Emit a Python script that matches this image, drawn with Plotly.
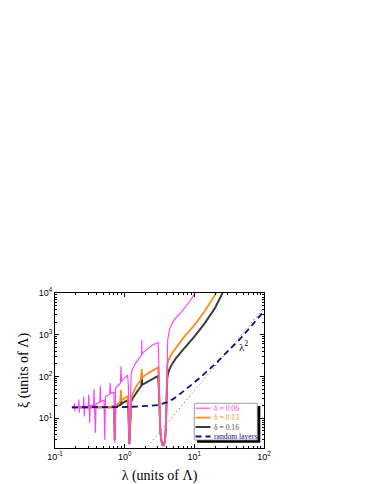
import plotly.graph_objects as go

# ---------------- data ----------------
lam_06 = [0.175, 0.188, 0.190, 0.192, 0.194, 0.218, 0.220, 0.223, 0.226, 0.256, 0.259, 0.263, 0.267,
          0.300, 0.304, 0.309, 0.315, 0.320, 0.358, 0.363, 0.368, 0.380, 0.388, 0.440, 0.447, 0.454,
          0.505, 0.517, 0.530, 0.61, 0.62, 0.63, 0.70, 0.72, 0.74, 0.80, 0.87, 0.885, 0.90, 0.97,
          1.05, 1.10, 1.13, 1.15, 1.17, 1.19, 1.21, 1.24, 1.30, 1.40, 1.55, 1.70, 1.75, 1.76, 1.77,
          1.85, 2.05, 2.3, 2.6, 2.9, 3.02, 3.08, 3.12, 3.17, 3.25, 3.35, 3.5, 3.65, 3.8, 3.9, 3.97,
          4.02, 4.08, 4.15, 4.3, 4.5, 4.9, 5.5, 6.5, 7.5, 8.8, 10.3]
xi_06 = [18.2, 18.2, 23, 14.5, 18.2, 18.3, 28, 13.3, 18.4, 18.6, 33, 11, 18.8,
         19.2, 37, 19.5, 7.7, 20, 20.5, 50, 21, 4.4, 22, 24, 60, 25,
         27, 3.05, 33, 38, 70, 39, 42, 2.54, 52, 60, 70, 175, 75, 88,
         100, 108, 60, 10, 2.3, 10, 60, 115, 150, 195, 250, 300, 330, 760, 340,
         380, 440, 510, 580, 640, 650, 300, 60, 15, 5, 3, 2.25, 2.25, 3, 6, 20,
         100, 450, 750, 1100, 1500, 2000, 2600, 3500, 4600, 6600, 10200]

lam_13 = [0.175, 0.60, 0.66, 0.70, 0.715, 0.72, 0.725, 0.735, 0.80, 0.875, 0.885, 0.895, 0.97,
          1.05, 1.10, 1.13, 1.15, 1.17, 1.19, 1.21, 1.24, 1.32, 1.45, 1.6, 1.74, 1.76, 1.78,
          2.0, 2.3, 2.6, 2.9, 3.02, 3.08, 3.12, 3.17, 3.25, 3.35, 3.5, 3.65, 3.8, 3.9, 3.97,
          4.02, 4.08, 4.2, 4.4, 4.8, 5.5, 7.0, 10, 14, 20.8]
xi_13 = [18.2, 18.2, 19.5, 20, 6, 3.0, 6, 19.5, 22, 25.5, 48, 26.5, 29,
         32, 34, 20, 6, 2.4, 6, 20, 30, 40, 56, 72, 88, 150, 92,
         110, 126, 145, 160, 165, 90, 35, 12, 5, 3, 2.25, 2.25, 3, 6, 20,
         80, 180, 230, 280, 360, 500, 850, 1700, 3600, 10200]

lam_16 = [0.175, 0.70, 0.715, 0.72, 0.725, 0.735, 0.80, 0.875, 0.885, 0.895, 0.97,
          1.05, 1.10, 1.13, 1.15, 1.17, 1.19, 1.21, 1.24, 1.32, 1.45, 1.6, 1.74, 1.76, 1.78,
          2.0, 2.3, 2.6, 2.9, 3.02, 3.08, 3.12, 3.17, 3.25, 3.35, 3.5, 3.65, 3.8, 3.9, 3.97,
          4.02, 4.08, 4.2, 4.4, 4.8, 5.5, 7.0, 10, 14, 20, 25.5]
xi_16 = [18.2, 18.3, 6, 3.0, 6, 18.5, 19.5, 21, 40, 22, 24,
         26, 27, 15, 5, 2.4, 5, 15, 25, 31, 40, 50, 60, 120, 63,
         70, 80, 90, 100, 103, 60, 25, 10, 5, 3, 2.25, 2.25, 3, 6, 18,
         50, 90, 120, 150, 200, 280, 450, 900, 1850, 4500, 10200]

lam_rl = [0.175, 0.5, 0.8, 1.0, 1.5, 2.0, 3.0, 4.0, 5.0, 6.0, 7.0, 8.5, 10, 12, 15, 20, 30, 45, 60, 80, 100]
xi_rl = [18.2, 18.2, 18.3, 18.5, 19, 19.5, 20.5, 24, 29, 36, 44, 57, 72, 92, 130, 200, 400, 780, 1350, 2350, 3700]

lam_sq = [2.0, 100]
xi_sq = [1.85, 4400]

x_tickvals = [0.1, 1, 10, 100]
x_ticktext = ["10<sup>-1</sup>", "10<sup>0</sup>", "10<sup>1</sup>", "10<sup>2</sup>"]
y_tickvals = [10, 100, 1000, 10000]
y_ticktext = ["10<sup>1</sup>", "10<sup>2</sup>", "10<sup>3</sup>", "10<sup>4</sup>"]

legend_names = ["δ = 0.06", "δ = 0.13", "δ = 0.16", "random layers"]

# ---------------- styling ----------------
C_MAG = "#ff3cff"
C_ORA = "#ff8c1a"
C_GRY = "#3c3c3c"
C_NAV = "#10107a"

W, H = 374, 484
L, R, T, B = 55, 264, 293, 448


def px(x):
    return (x - L) / (R - L)


def py(y):
    return (B - y) / (B - T)


fig = go.Figure()
fig.add_trace(go.Scatter(x=lam_sq, y=xi_sq, mode="lines",
                         line=dict(color="#555555", width=1, dash="1px,3px"), showlegend=False))
fig.add_trace(go.Scatter(x=lam_16, y=xi_16, mode="lines", name=legend_names[2],
                         line=dict(color=C_GRY, width=2), showlegend=False))
fig.add_trace(go.Scatter(x=lam_13, y=xi_13, mode="lines", name=legend_names[1],
                         line=dict(color=C_ORA, width=1.8), showlegend=False))
fig.add_trace(go.Scatter(x=lam_06, y=xi_06, mode="lines", name=legend_names[0],
                         line=dict(color=C_MAG, width=1.1), showlegend=False))
fig.add_trace(go.Scatter(x=lam_rl, y=xi_rl, mode="lines", name=legend_names[3],
                         line=dict(color=C_NAV, width=1.8, dash="6px,4px"), showlegend=False))

minor_x = [m * 10 ** e for e in range(-1, 2) for m in range(2, 10)]
minor_y = [m * 10 ** e for e in range(0, 4) for m in range(2, 10)]

axis_common = dict(type="log", showline=True, linecolor="black", linewidth=1, mirror="allticks",
                   ticks="inside", ticklen=4, tickcolor="black", showgrid=False, zeroline=False,
                   automargin=False,
                   tickfont=dict(family="Liberation Sans", size=9, color="black"))

fig.update_xaxes(range=[-1, 2], tickmode="array", tickvals=x_tickvals, ticktext=x_ticktext,
                 minor=dict(tickmode="array", tickvals=minor_x, ticks="inside", ticklen=2, tickcolor="black"),
                 title=dict(text="λ (units of Λ)", font=dict(family="Liberation Serif", size=14, color="black"),
                            standoff=10),
                 **axis_common)
fig.update_yaxes(range=[0.285, 4.0], tickmode="array", tickvals=y_tickvals, ticktext=y_ticktext,
                 minor=dict(tickmode="array", tickvals=minor_y, ticks="inside", ticklen=2, tickcolor="black"),
                 title=dict(text="ξ (units of Λ)", font=dict(family="Liberation Serif", size=14, color="black"),
                            standoff=6),
                 **axis_common)

# manual legend with drop shadow
shapes = [
    dict(type="rect", xref="paper", yref="paper", x0=px(197), x1=px(260.3), y0=py(442.7), y1=py(406),
         fillcolor="black", line=dict(width=0), layer="above"),
    dict(type="rect", xref="paper", yref="paper", x0=px(194.3), x1=px(257.3), y0=py(440), y1=py(403.3),
         fillcolor="white", line=dict(color="#888888", width=0.8), layer="above"),
]
rows = [408.2, 417.6, 427.0, 436.4]
styles = [dict(color=C_MAG, width=1.1), dict(color=C_ORA, width=1.8), dict(color=C_GRY, width=2),
          dict(color=C_NAV, width=2, dash="6px,4px")]
txt_colors = [C_MAG, C_ORA, "#505050", C_NAV]
annotations = []
for r, st, name, tc in zip(rows, styles, legend_names, txt_colors):
    shapes.append(dict(type="line", xref="paper", yref="paper", x0=px(195.5), x1=px(210.5),
                       y0=py(r), y1=py(r), line=st, layer="above"))
    annotations.append(dict(xref="paper", yref="paper", x=px(212), y=py(r), text=name, showarrow=False,
                            xanchor="left", yanchor="middle",
                            font=dict(family="Liberation Serif", size=7.6, color=tc)))

annotations.append(dict(xref="paper", yref="paper", x=px(243), y=py(346), text="λ<sup>2</sup>",
                        showarrow=False, xanchor="center", yanchor="middle",
                        font=dict(family="Liberation Serif", size=11, color="black")))

fig.update_layout(width=W, height=H, margin=dict(l=L, r=W - R, t=T, b=H - B, pad=0, autoexpand=False),
                  paper_bgcolor="white", plot_bgcolor="white", showlegend=False,
                  shapes=shapes, annotations=annotations)

fig.write_html("out.html", config={"displayModeBar": False},
               post_script="document.body.style.margin='0px';")
